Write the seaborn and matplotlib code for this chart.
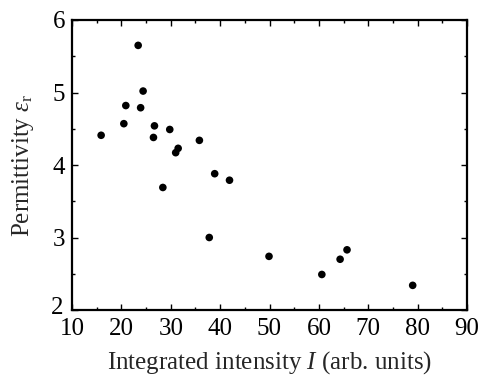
import matplotlib
matplotlib.use("Agg")
import matplotlib.pyplot as plt
from matplotlib.ticker import MultipleLocator
import matplotlib.transforms as mtransforms
import seaborn as sns
import pandas as pd

# Integrated intensity (arb. units) and relative permittivity of each sample
intensity = [15.9, 20.5, 20.9, 23.4, 23.9, 24.4, 26.5, 26.7, 29.8, 31.0,
             31.5, 35.8, 38.9, 41.9, 28.4, 37.8, 49.9, 60.6, 64.3, 65.7, 79.0]
permittivity = [4.41, 4.57, 4.82, 5.65, 4.79, 5.02, 4.38, 4.54, 4.49, 4.17,
                4.23, 4.34, 3.88, 3.79, 3.69, 3.00, 2.74, 2.49, 2.70, 2.83, 2.34]

x_ticks = [10, 20, 30, 40, 50, 60, 70, 80, 90]
y_ticks = [2, 3, 4, 5, 6]

df = pd.DataFrame({"intensity": intensity, "permittivity": permittivity})

sns.set_theme(style="ticks")
plt.rcParams["font.family"] = ["Liberation Serif", "DejaVu Serif"]
plt.rcParams["mathtext.fontset"] = "custom"
plt.rcParams["mathtext.rm"] = "Liberation Serif"
plt.rcParams["mathtext.it"] = "Liberation Serif:italic"

fig = plt.figure(figsize=(4.79, 3.80), dpi=100)
ax = fig.add_axes([72 / 479, 1 - 310 / 380, (467 - 72) / 479, (310 - 20) / 380])

sns.scatterplot(data=df, x="intensity", y="permittivity", ax=ax,
                color="black", s=30, edgecolor="none", legend=False)

ax.set_xlim(10, 90)
ax.set_ylim(2, 6)
ax.set_xticks(x_ticks)
ax.set_yticks(y_ticks)
ax.xaxis.set_minor_locator(MultipleLocator(5))
ax.yaxis.set_minor_locator(MultipleLocator(0.5))

ax.tick_params(which="both", direction="in", top=True, right=True,
               labelsize=18, colors="black", width=1.0)
ax.tick_params(which="major", length=4.5)
ax.tick_params(axis="x", which="major", pad=5.5)
ax.tick_params(axis="y", which="major", pad=5)
ax.tick_params(which="minor", length=2.5)
for side in ax.spines.values():
    side.set_linewidth(1.6)
    side.set_color("black")

# lift the lowest y label a little so it clears the first x label
lift = mtransforms.ScaledTranslation(-1 / 72, 3 / 72, fig.dpi_scale_trans)
lowest = ax.get_yticklabels()[0]
lowest.set_transform(lowest.get_transform() + lift)

ax.set_xlabel(r"Integrated intensity $\mathit{I}$ (arb. units)", fontsize=18, labelpad=7)
ax.set_ylabel(r"Permittivity $\varepsilon_{\mathrm{r}}$", fontsize=18, labelpad=11)

fig.savefig("out.png", dpi=100)
